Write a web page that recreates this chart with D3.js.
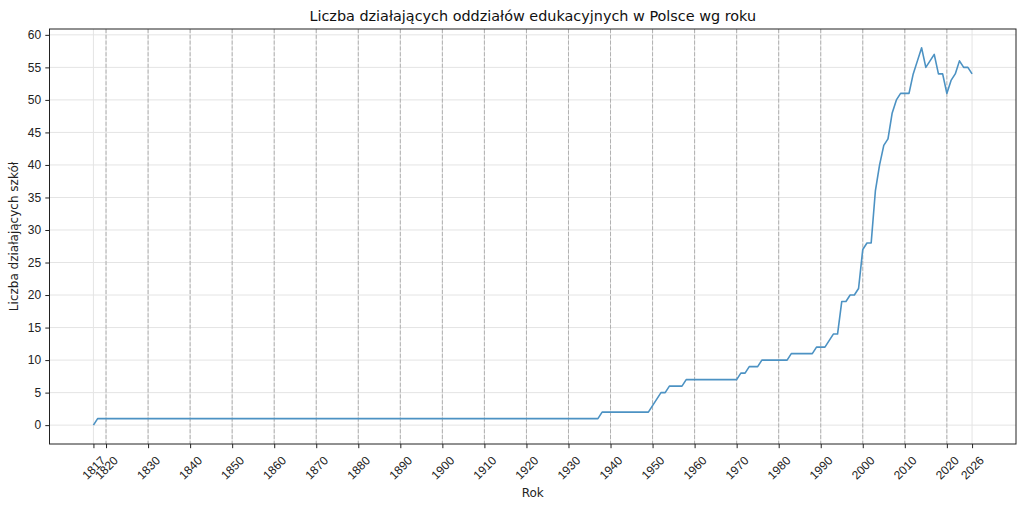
<!DOCTYPE html>
<html>
<head>
<meta charset="utf-8">
<script src="https://cdn.jsdelivr.net/npm/d3@7"></script>
<style>
  body { margin: 0; background: #fff; }
  svg { font-family: "DejaVu Sans", sans-serif; }
</style>
</head>
<body>
<svg id="chart"></svg>
<script>
// vertices of the yearly line (flat runs kept by their first and last year)
const years = [1817, 1818, 1937, 1938, 1949, 1950, 1951, 1952, 1953, 1954, 1957, 1958, 1970,
  1971, 1972, 1973, 1975, 1976, 1982, 1983, 1988, 1989, 1991, 1992, 1993, 1994, 1995, 1996,
  1997, 1998, 1999, 2000, 2001, 2002, 2003, 2004, 2005, 2006, 2007, 2008, 2009, 2010, 2011,
  2012, 2013, 2014, 2015, 2016, 2017, 2018, 2019, 2020, 2021, 2022, 2023, 2024, 2025, 2026]
const counts = [0, 1, 1, 2, 2, 3, 4, 5, 5, 6, 6, 7, 7,
  8, 8, 9, 9, 10, 10, 11, 11, 12, 12, 13, 14, 14, 19, 19,
  20, 20, 21, 27, 28, 28, 36, 40, 43, 44, 48, 50, 51, 51, 51,
  54, 56, 58, 55, 56, 57, 54, 54, 51, 53, 54, 56, 55, 55, 54]

const x_ticks = [1817, 1820, 1830, 1840, 1850, 1860, 1870, 1880, 1890, 1900, 1910, 1920,
  1930, 1940, 1950, 1960, 1970, 1980, 1990, 2000, 2010, 2020, 2026]
const decade_lines = [1820, 1830, 1840, 1850, 1860, 1870, 1880, 1890, 1900, 1910, 1920,
  1930, 1940, 1950, 1960, 1970, 1980, 1990, 2000, 2010, 2020]
const y_ticks = [0, 5, 10, 15, 20, 25, 30, 35, 40, 45, 50, 55, 60]

const title = "Liczba działających oddziałów edukacyjnych w Polsce wg roku"
const x_title = "Rok"
const y_title = "Liczba działających szkół"

const width = 1024
const height = 508
const margin = { top: 29, right: 8, bottom: 64, left: 49.5 }

const tick_len = 4.2
const tick_pad = 4.2
const label_size = 12

const svg = d3.select("#chart").attr("width", width).attr("height", height)

// matplotlib style 5% padding on both axes
const x_pad = (d3.max(years) - d3.min(years)) * 0.05
const y_pad = (d3.max(counts) - d3.min(counts)) * 0.05

const x = d3.scaleLinear()
  .domain([d3.min(years) - x_pad, d3.max(years) + x_pad])
  .range([margin.left, width - margin.right])

const y = d3.scaleLinear()
  .domain([d3.min(counts) - y_pad, d3.max(counts) + y_pad])
  .range([height - margin.bottom, margin.top])

const plot_bottom = height - margin.bottom

// light solid grid
svg.append("g")
  .selectAll("line")
  .data(x_ticks)
  .join("line")
  .attr("x1", d => x(d)).attr("x2", d => x(d))
  .attr("y1", margin.top).attr("y2", plot_bottom)
  .attr("stroke", "#e4e4e4").attr("stroke-width", 1)

svg.append("g")
  .selectAll("line")
  .data(y_ticks)
  .join("line")
  .attr("x1", margin.left).attr("x2", width - margin.right)
  .attr("y1", d => y(d)).attr("y2", d => y(d))
  .attr("stroke", "#e4e4e4").attr("stroke-width", 1)

// dashed decade markers
svg.append("g")
  .selectAll("line")
  .data(decade_lines)
  .join("line")
  .attr("x1", d => x(d)).attr("x2", d => x(d))
  .attr("y1", margin.top).attr("y2", plot_bottom)
  .attr("stroke", "#b0b0b0").attr("stroke-width", 1)
  .attr("stroke-dasharray", "4,1.8")

// the data line
const line = d3.line().x(d => x(d[0])).y(d => y(d[1]))
svg.append("path")
  .datum(years.map((yr, i) => [yr, counts[i]]))
  .attr("d", line)
  .attr("fill", "none")
  .attr("stroke", "#4c92c3")
  .attr("stroke-width", 1.6)
  .attr("stroke-linejoin", "round")

// axes
const x_axis = svg.append("g")
  .attr("transform", `translate(0,${plot_bottom})`)
  .call(d3.axisBottom(x).tickValues(x_ticks).tickFormat(d3.format("d")).tickSize(tick_len).tickPadding(tick_pad))
x_axis.select(".domain").remove()
x_axis.selectAll("line").attr("stroke", "#222")
x_axis.selectAll("text")
  .attr("font-size", label_size)
  .attr("fill", "#222")
  .attr("text-anchor", "middle")
  .attr("dy", null)
  .attr("y", null)
  .attr("dominant-baseline", "central")
  .attr("transform", "translate(0,24) rotate(-45)")

const y_axis = svg.append("g")
  .attr("transform", `translate(${margin.left},0)`)
  .call(d3.axisLeft(y).tickValues(y_ticks).tickSize(tick_len).tickPadding(tick_pad))
y_axis.select(".domain").remove()
y_axis.selectAll("line").attr("stroke", "#222")
y_axis.selectAll("text").attr("font-size", label_size).attr("fill", "#222")

// frame
svg.append("rect")
  .attr("x", margin.left).attr("y", margin.top)
  .attr("width", width - margin.right - margin.left)
  .attr("height", plot_bottom - margin.top)
  .attr("fill", "none").attr("stroke", "#222").attr("stroke-width", 1)

// titles
const mid_x = (margin.left + width - margin.right) / 2
svg.append("text")
  .attr("x", mid_x).attr("y", 21)
  .attr("text-anchor", "middle")
  .attr("font-size", 14.4)
  .attr("fill", "#111")
  .text(title)

svg.append("text")
  .attr("x", mid_x).attr("y", 497)
  .attr("text-anchor", "middle")
  .attr("font-size", label_size)
  .attr("fill", "#222")
  .text(x_title)

svg.append("text")
  .attr("transform", `translate(18,${(margin.top + plot_bottom) / 2}) rotate(-90)`)
  .attr("text-anchor", "middle")
  .attr("font-size", label_size)
  .attr("fill", "#222")
  .text(y_title)
</script>
</body>
</html>
